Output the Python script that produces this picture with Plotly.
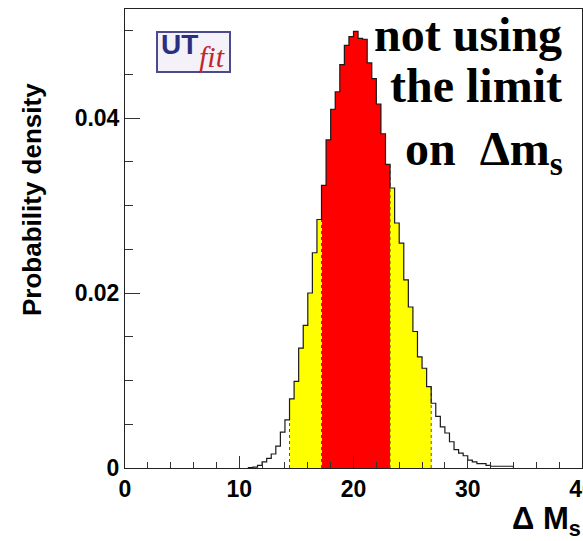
import numpy as np
import plotly.graph_objects as go

# Histogram of the Delta M_s probability density (bins of 0.4, normalised per bin)
first_bin_lo = 10.8
bin_width = 0.4
density = [
    0.00004, 0.0001, 0.0003, 0.0007, 0.0011, 0.0016, 0.0025, 0.0041, 0.0055,   # 10.8 .. 14.4
    0.0079, 0.0099, 0.0137, 0.0163, 0.0200, 0.0246, 0.0284,                     # 14.4 .. 17.2
    0.0323, 0.0375, 0.0410, 0.0430, 0.0461, 0.0483, 0.0493, 0.0499,             # 17.2 .. 20.4
    0.0491, 0.0490, 0.0463, 0.0445, 0.0416, 0.0382, 0.0347,                     # 20.4 .. 23.2
    0.0320, 0.0280, 0.0257, 0.0215, 0.0184, 0.0156, 0.0127, 0.0114, 0.0093,     # 23.2 .. 26.8
    0.0074, 0.0059, 0.0047, 0.0040, 0.0030, 0.0021, 0.0017, 0.0014, 0.0009,     # 26.8 .. 30.4
    0.0007, 0.0005, 0.0005, 0.0003, 0.0002, 0.0002, 0.0002, 0.0002, 0.0002,     # 30.4 .. 34.0
]

# probability intervals
interval_95 = (14.4, 26.8)
interval_68 = (17.2, 23.2)

x_ticks = [0, 10, 20, 30, 40]
x_ticklabels = ["0", "10", "20", "30", "40"]
y_ticks = [0, 0.02, 0.04]
y_ticklabels = ["0", "0.02", "0.04"]

density = np.array(density)
lo = first_bin_lo + bin_width * np.arange(len(density))
centers = lo + bin_width / 2
edges = np.append(lo, lo[-1] + bin_width)

def in_band(band):
    return (lo >= band[0] - 1e-9) & (lo + bin_width <= band[1] + 1e-9)

fig = go.Figure()

m95 = in_band(interval_95)
m68 = in_band(interval_68)
fig.add_trace(go.Bar(x=centers[m95], y=density[m95], width=bin_width,
                     marker=dict(color="#ffff00", line=dict(width=0)), showlegend=False))
fig.add_trace(go.Bar(x=centers[m68], y=density[m68], width=bin_width,
                     marker=dict(color="#ff0000", line=dict(width=0)), showlegend=False))

# dotted borders of the shaded intervals
bx, by = [], []
for band in (interval_95, interval_68):
    for k, edge in enumerate(band):
        idx = int(np.argmin(np.abs((lo if k == 0 else lo + bin_width) - edge)))
        bx += [edge, edge, None]
        by += [0, density[idx], None]
fig.add_trace(go.Scatter(x=bx, y=by, mode="lines",
                         line=dict(color="#555555", width=1, dash="dot"),
                         showlegend=False, hoverinfo="skip"))

# histogram outline
sx = np.concatenate([[edges[0]], edges])
sy = np.concatenate([[0], density, [0]])
fig.add_trace(go.Scatter(x=sx, y=sy, mode="lines", line_shape="hv",
                         line=dict(color="#1a1a1a", width=1.2),
                         showlegend=False, hoverinfo="skip"))

tick_font = dict(family="Liberation Sans, Arial, sans-serif", size=23,
                 color="black", weight="bold")

fig.update_layout(
    width=583, height=541,
    margin=dict(l=125, r=1, t=9, b=73, autoexpand=False),
    paper_bgcolor="white", plot_bgcolor="white",
    barmode="overlay", bargap=0,
    xaxis=dict(range=[0, 40], tickvals=x_ticks, ticktext=x_ticklabels,
               ticks="inside", ticklen=12, tickwidth=1, tickcolor="#333",
               minor=dict(dtick=2, ticks="inside", ticklen=6, tickcolor="#333"),
               showline=True, linecolor="#222", linewidth=1, mirror=True,
               showgrid=False, zeroline=False, tickfont=tick_font,
               ticklabeloverflow="allow", automargin=False),
    yaxis=dict(range=[0, 0.05246], tickvals=y_ticks, ticktext=y_ticklabels,
               ticks="inside", ticklen=15, tickwidth=1, tickcolor="#333",
               minor=dict(dtick=0.005, ticks="inside", ticklen=8, tickcolor="#333"),
               showline=True, linecolor="#222", linewidth=1, mirror=True,
               showgrid=False, zeroline=False, tickfont=tick_font,
               automargin=False),
)

def px_x(p):
    return (p - 125) / 457

def px_y(p):
    return (468 - p) / 459

annotations = [
    dict(text="Probability density", textangle=-90, x=px_x(32), y=px_y(200),
         font=dict(family="Liberation Sans, Arial, sans-serif", size=26,
                   color="black", weight="bold")),
    dict(text="Δ M<sub>s</sub>", x=px_x(583), y=px_y(521), xanchor="right",
         font=dict(family="Liberation Sans, Arial, sans-serif", size=31,
                   color="black", weight="bold")),
    dict(text="not using", x=px_x(564), y=px_y(35), xanchor="right",
         font=dict(family="Liberation Serif, Times New Roman, serif", size=48,
                   color="black", weight="bold")),
    dict(text="the limit", x=px_x(564), y=px_y(85), xanchor="right",
         font=dict(family="Liberation Serif, Times New Roman, serif", size=48,
                   color="black", weight="bold")),
    dict(text="on\u00a0\u00a0Δm<sub>s</sub>", x=px_x(565), y=px_y(152), xanchor="right",
         font=dict(family="Liberation Serif, Times New Roman, serif", size=48,
                   color="black", weight="bold")),
    # logo lettering
    dict(text="UT", x=px_x(179), y=px_y(44),
         font=dict(family="Liberation Sans, Arial, sans-serif", size=28,
                   color="#2b2f7f", weight="bold")),
    dict(text="<i>fit</i>", x=px_x(212), y=px_y(57),
         font=dict(family="Liberation Serif, Times New Roman, serif", size=30,
                   color="#c0272d")),
]
for a in annotations:
    a.setdefault("xanchor", "center")
    a.update(xref="paper", yref="paper", showarrow=False, yanchor="middle")
fig.update_layout(annotations=annotations)

# logo frame
fig.add_shape(type="rect", xref="paper", yref="paper",
              x0=px_x(157), x1=px_x(230), y0=px_y(72), y1=px_y(32),
              line=dict(color="#4a4a8c", width=2), fillcolor="#f4f2f8", layer="below")

fig.write_html("out.html")
